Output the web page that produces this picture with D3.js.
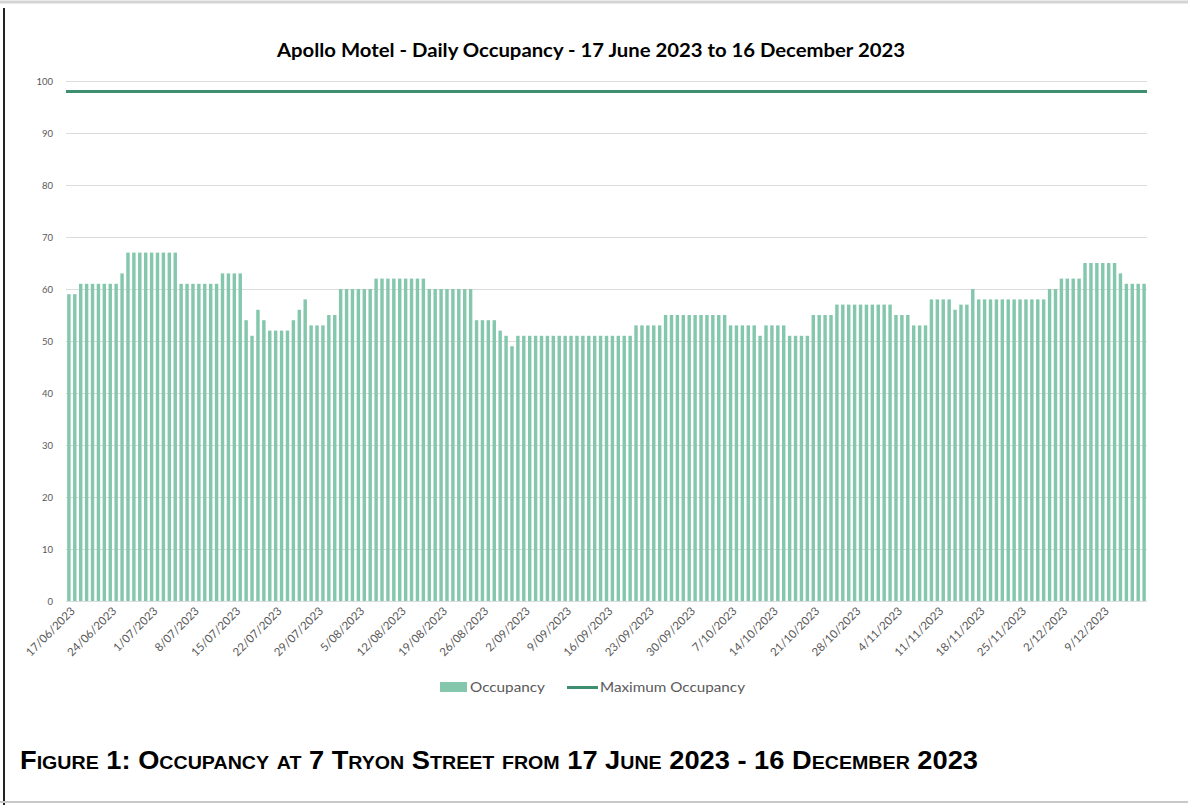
<!DOCTYPE html>
<html>
<head>
<meta charset="utf-8">
<script src="https://cdn.jsdelivr.net/npm/d3@7"></script>
<style>
  body { margin: 0; background: #fff; }
  svg { display: block; }
</style>
</head>
<body>
<svg id="chart" width="1188" height="805"></svg>
<script>
// daily occupancy, 17/06/2023 .. 16/12/2023
const occupancy = [
  59, 59, 61, 61, 61, 61, 61, 61, 61, 63,
  67, 67, 67, 67, 67, 67, 67, 67, 67, 61,
  61, 61, 61, 61, 61, 61, 63, 63, 63, 63,
  54, 51, 56, 54, 52, 52, 52, 52, 54, 56,
  58, 53, 53, 53, 55, 55, 60, 60, 60, 60,
  60, 60, 62, 62, 62, 62, 62, 62, 62, 62,
  62, 60, 60, 60, 60, 60, 60, 60, 60, 54,
  54, 54, 54, 52, 51, 49, 51, 51, 51, 51,
  51, 51, 51, 51, 51, 51, 51, 51, 51, 51,
  51, 51, 51, 51, 51, 51, 53, 53, 53, 53,
  53, 55, 55, 55, 55, 55, 55, 55, 55, 55,
  55, 55, 53, 53, 53, 53, 53, 51, 53, 53,
  53, 53, 51, 51, 51, 51, 55, 55, 55, 55,
  57, 57, 57, 57, 57, 57, 57, 57, 57, 57,
  55, 55, 55, 53, 53, 53, 58, 58, 58, 58,
  56, 57, 57, 60, 58, 58, 58, 58, 58, 58,
  58, 58, 58, 58, 58, 58, 60, 60, 62, 62,
  62, 62, 65, 65, 65, 65, 65, 65, 63, 61,
  61, 61, 61
];
const maxOccupancy = 98;
const tickLabels = [
  "17/06/2023", "24/06/2023", "1/07/2023", "8/07/2023", "15/07/2023",
  "22/07/2023", "29/07/2023", "5/08/2023", "12/08/2023", "19/08/2023",
  "26/08/2023", "2/09/2023", "9/09/2023", "16/09/2023", "23/09/2023",
  "30/09/2023", "7/10/2023", "14/10/2023", "21/10/2023", "28/10/2023",
  "4/11/2023", "11/11/2023", "18/11/2023", "25/11/2023", "2/12/2023",
  "9/12/2023"
];
const yTicks = [0, 10, 20, 30, 40, 50, 60, 70, 80, 90, 100];
const seriesNames = ["Occupancy", "Maximum Occupancy"];

const days = d3.range(occupancy.length);
const barColor = "#84c7ad";
const lineColor = "#3e8f70";
const textGrey = "#595959";

const svg = d3.select("#chart");

// page frame
svg.append("line").attr("x1", 0).attr("x2", 1188).attr("y1", 2).attr("y2", 2)
  .attr("stroke", "#d4d4d4").attr("stroke-width", 3);
svg.append("line").attr("x1", 4).attr("x2", 4).attr("y1", 8).attr("y2", 805)
  .attr("stroke", "#222").attr("stroke-width", 2);
svg.append("line").attr("x1", 0).attr("x2", 1188).attr("y1", 802).attr("y2", 802)
  .attr("stroke", "#c8c8c8").attr("stroke-width", 2);

const margin = { left: 66, right: 1147, top: 81, bottom: 601 };

const x = d3.scaleBand()
  .domain(days)
  .range([margin.left, margin.right])
  .paddingInner(0.42)
  .paddingOuter(0.2);

const y = d3.scaleLinear()
  .domain([0, 100])
  .range([margin.bottom, margin.top]);

// title
const title = svg.append("text")
  .attr("x", 591).attr("y", 57)
  .attr("text-anchor", "middle")
  .attr("font-family", "Lato, sans-serif")
  .attr("font-weight", "bold")
  .attr("font-size", 18.5)
  .attr("fill", "#000")
  .text("Apollo Motel - Daily Occupancy - 17 June 2023 to 16 December 2023");
fitWidth(title, 628);

// gridlines
svg.append("g")
  .selectAll("line")
  .data(yTicks)
  .join("line")
  .attr("x1", margin.left).attr("x2", margin.right)
  .attr("y1", d => y(d) + 0.5).attr("y2", d => y(d) + 0.5)
  .attr("stroke", "#dcdcdc").attr("stroke-width", 1);

// y axis
const yAxis = svg.append("g")
  .attr("transform", `translate(${margin.left - 13},0)`)
  .call(d3.axisLeft(y).tickValues(yTicks).tickSize(0).tickPadding(0));
yAxis.select(".domain").remove();
yAxis.selectAll("text")
  .attr("font-family", "Lato, sans-serif")
  .attr("font-size", 9.5)
  .attr("fill", textGrey);

// bars
svg.append("g")
  .selectAll("rect")
  .data(occupancy)
  .join("rect")
  .attr("x", (d, i) => x(i))
  .attr("y", d => y(d))
  .attr("width", x.bandwidth())
  .attr("height", d => y(0) - y(d))
  .attr("fill", barColor);

// maximum occupancy line
svg.append("line")
  .attr("x1", margin.left).attr("x2", margin.right)
  .attr("y1", y(maxOccupancy)).attr("y2", y(maxOccupancy))
  .attr("stroke", lineColor).attr("stroke-width", 3);

// x axis labels, one each week
const tickDays = days.filter(i => i % 7 === 0);
const xAxis = svg.append("g")
  .attr("transform", `translate(2,${margin.bottom + 6})`)
  .call(d3.axisBottom(x).tickValues(tickDays).tickSize(0).tickPadding(0)
    .tickFormat((d, i) => tickLabels[i]));
xAxis.select(".domain").remove();
xAxis.selectAll("text")
  .attr("font-family", "Lato, sans-serif")
  .attr("font-size", 11.5)
  .attr("fill", textGrey)
  .attr("text-anchor", "end")
  .attr("dy", "0.6em")
  .attr("transform", "rotate(-45)");

// legend
const legend = svg.append("g").attr("transform", "translate(440,687)");
legend.append("rect")
  .attr("x", 0).attr("y", -5).attr("width", 27).attr("height", 10)
  .attr("fill", barColor);
const leg1 = legend.append("text")
  .attr("x", 30).attr("y", 0).attr("dy", "0.35em")
  .attr("font-family", "Lato, sans-serif").attr("font-size", 14)
  .attr("fill", textGrey).text(seriesNames[0]);
fitWidth(leg1, 75);
legend.append("line")
  .attr("x1", 127).attr("x2", 158).attr("y1", 0.5).attr("y2", 0.5)
  .attr("stroke", lineColor).attr("stroke-width", 3);
const leg2 = legend.append("text")
  .attr("x", 160).attr("y", 0).attr("dy", "0.35em")
  .attr("font-family", "Lato, sans-serif").attr("font-size", 14)
  .attr("fill", textGrey).text(seriesNames[1]);
fitWidth(leg2, 145);

// figure caption
const caption = svg.append("text")
  .attr("x", 20).attr("y", 769)
  .attr("font-family", "'Liberation Sans Narrow', 'Liberation Sans', Arial, sans-serif")
  .attr("font-weight", "bold")
  .attr("font-size", 25)
  .attr("font-variant", "small-caps")
  .attr("fill", "#000")
  .text("Figure 1: Occupancy at 7 Tryon Street from 17 June 2023 - 16 December 2023");
fitWidth(caption, 958);

function fitWidth(sel, target) {
  const w = sel.node().getComputedTextLength();
  if (Math.abs(w - target) > 3) {
    sel.attr("textLength", target).attr("lengthAdjust", "spacingAndGlyphs");
  }
}
</script>
</body>
</html>
